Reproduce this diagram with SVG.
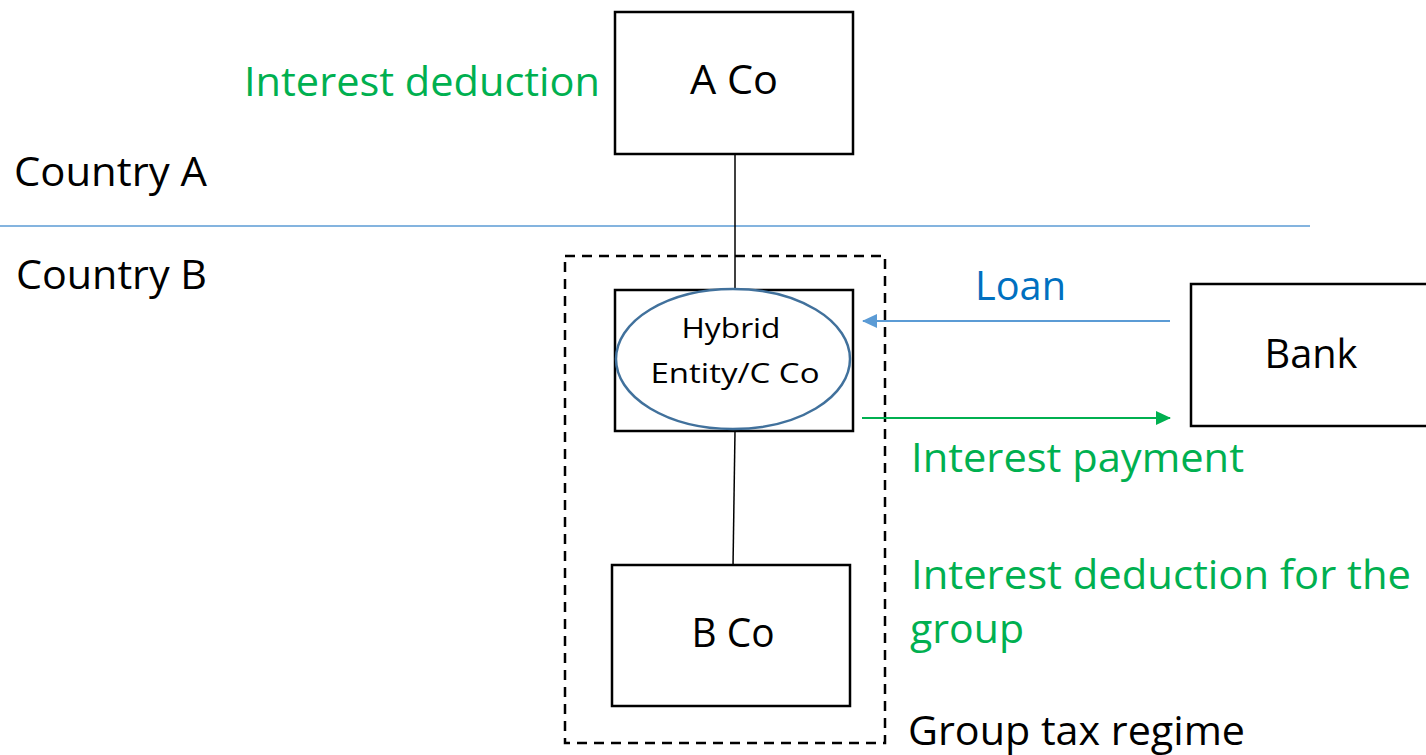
<svg xmlns="http://www.w3.org/2000/svg" width="1426" height="755" viewBox="0 0 1426 755">
  <defs>
    <style>
      text { font-family: "Open Sans", "Noto Sans", "Liberation Sans", sans-serif; font-size: 40px; }
      .box { fill: #fff; stroke: #000; stroke-width: 2.5; }
      .black { fill: #000; }
      .green { fill: #00B050; }
      .blue { fill: #0070C0; }
      .small { font-size: 27px; }
      .link { stroke: #000; stroke-width: 1.5; fill: none; }
    </style>
    <marker id="arrow-blue" viewBox="0 0 15 14" refX="14" refY="7" markerWidth="15" markerHeight="14" orient="auto" markerUnits="userSpaceOnUse">
      <path d="M0,0 L15,7 L0,14 z" fill="#5B9BD5"/>
    </marker>
    <marker id="arrow-green" viewBox="0 0 15 14" refX="14" refY="7" markerWidth="15" markerHeight="14" orient="auto" markerUnits="userSpaceOnUse">
      <path d="M0,0 L15,7 L0,14 z" fill="#00B050"/>
    </marker>
  </defs>

  <rect width="1426" height="755" fill="#fff"/>

  <!-- country border -->
  <line x1="0" y1="226" x2="1310" y2="226" stroke="#5B9BD5" stroke-width="1.5"/>
  <text x="14" y="186" class="black" textLength="193" lengthAdjust="spacingAndGlyphs">Country A</text>
  <text x="16" y="289" class="black" textLength="191" lengthAdjust="spacingAndGlyphs">Country B</text>

  <!-- group tax regime boundary -->
  <g id="group-regime">
    <rect x="565" y="256" width="320" height="487" fill="none" stroke="#000" stroke-width="2.5" stroke-dasharray="10,7"/>
    <text x="908" y="745" class="black" textLength="337" lengthAdjust="spacingAndGlyphs">Group tax regime</text>
  </g>

  <!-- connectors -->
  <g id="connectors">
    <line class="link" x1="735" y1="154" x2="735" y2="290"/>
    <line class="link" x1="735" y1="431" x2="733" y2="567"/>
    <line x1="1170" y1="321" x2="863" y2="321" stroke="#5B9BD5" stroke-width="1.8" marker-end="url(#arrow-blue)"/>
    <line x1="862" y1="418" x2="1170" y2="418" stroke="#00B050" stroke-width="1.8" marker-end="url(#arrow-green)"/>
    <text x="975" y="300" class="blue" textLength="91" lengthAdjust="spacingAndGlyphs">Loan</text>
    <text x="911" y="472" class="green" textLength="333" lengthAdjust="spacingAndGlyphs">Interest payment</text>
  </g>

  <g id="a-co">
    <rect class="box" x="615" y="12" width="238" height="142"/>
    <text x="734" y="94" class="black" text-anchor="middle" textLength="88" lengthAdjust="spacingAndGlyphs">A Co</text>
    <text x="244" y="96" class="green" textLength="356" lengthAdjust="spacingAndGlyphs">Interest deduction</text>
  </g>

  <g id="hybrid">
    <rect class="box" x="615" y="290" width="238" height="141"/>
    <ellipse cx="733" cy="359" rx="117" ry="70" fill="#fff" stroke="#41719C" stroke-width="2.5"/>
    <text x="731" y="338" class="black small" text-anchor="middle" textLength="99" lengthAdjust="spacingAndGlyphs">Hybrid</text>
    <text x="735" y="383" class="black small" text-anchor="middle" textLength="169" lengthAdjust="spacingAndGlyphs">Entity/C Co</text>
  </g>

  <g id="b-co">
    <rect class="box" x="612" y="565" width="238" height="141"/>
    <text x="733" y="647" class="black" text-anchor="middle" textLength="83" lengthAdjust="spacingAndGlyphs">B Co</text>
    <text x="911" y="589" class="green" textLength="500" lengthAdjust="spacingAndGlyphs">Interest deduction for the</text>
    <text x="910" y="643" class="green" textLength="114" lengthAdjust="spacingAndGlyphs">group</text>
  </g>

  <g id="bank">
    <rect class="box" x="1191" y="284" width="240" height="142"/>
    <text x="1311" y="368" class="black" text-anchor="middle" textLength="93" lengthAdjust="spacingAndGlyphs">Bank</text>
  </g>
</svg>
